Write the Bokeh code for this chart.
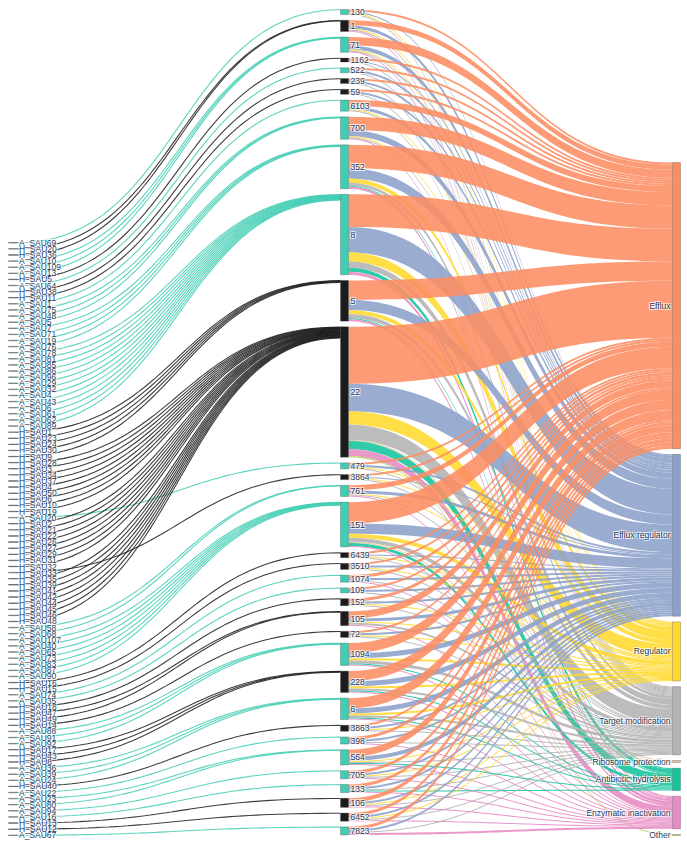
import numpy as np
from bokeh.plotting import figure
from bokeh.models import ColumnDataSource, Range1d
from bokeh.embed import file_html
from bokeh.resources import INLINE
from bokeh.core.properties import value

# ---------------- data ----------------
left_samples = [
    "A_SAU69", "H_SAU20", "H_SAU36", "A_SAU10", "A_SAU109", "A_SAU13", "H_SAU5", "A_SAU64", "H_SAU38", "H_SAU11",
    "A_SAU1", "A_SAU75", "A_SAU48", "A_SAU5", "A_SAU7", "A_SAU71", "A_SAU19", "A_SAU76", "A_SAU78", "A_SAU81",
    "A_SAU85", "A_SAU86", "A_SAU96", "A_SAU29", "A_SAU32", "A_SAU4", "A_SAU43", "A_SAU6", "A_SAU61", "A_SAU62",
    "A_SAU89", "H_SAU1", "H_SAU23", "H_SAU24", "H_SAU30", "H_SAU9", "H_SAU28", "H_SAU3", "H_SAU34", "H_SAU37",
    "H_SAU4", "H_SAU50", "H_SAU6", "H_SAU10", "H_SAU19", "A_SAU20", "H_SAU2", "H_SAU21", "H_SAU22", "H_SAU26",
    "H_SAU27", "H_SAU29", "H_SAU31", "H_SAU32", "H_SAU33", "H_SAU35", "H_SAU39", "H_SAU41", "H_SAU42", "H_SAU44",
    "H_SAU45", "H_SAU46", "H_SAU48", "A_SAU58", "A_SAU68", "A_SAU107", "A_SAU40", "A_SAU65", "A_SAU73", "A_SAU83",
    "A_SAU87", "A_SAU90", "H_SAU16", "H_SAU15", "A_SAU74", "A_SAU35", "H_SAU18", "H_SAU47", "H_SAU49", "H_SAU14",
    "A_SAU88", "A_SAU91", "A_SAU92", "H_SAU17", "H_SAU43", "H_SAU8", "A_SAU36", "A_SAU39", "A_SAU24", "H_SAU40",
    "A_SAU22", "A_SAU23", "A_SAU80", "A_SAU94", "A_SAU16", "H_SAU13", "H_SAU12", "A_SAU67",
]
left_targets = [
    "130", "1", "1", "71", "71", "71", "1162", "522", "239", "59",
    "6103", "700", "700", "700", "352", "352", "352", "352", "8", "8",
    "8", "8", "8", "8", "8", "8", "8", "8", "8", "8",
    "8", "5", "5", "5", "5", "5", "22", "22", "22", "22",
    "22", "22", "22", "22", "22", "479", "22", "22", "22", "22",
    "22", "22", "22", "22", "3864", "22", "22", "22", "22", "22",
    "22", "22", "22", "761", "761", "151", "151", "151", "151", "151",
    "151", "151", "6439", "3510", "1074", "109", "152", "105", "105", "72",
    "1094", "1094", "1094", "228", "228", "228", "6", "6", "6", "3863",
    "398", "564", "564", "705", "133", "106", "6452", "7823",
]
sample_value = 0.45

clusters = ["130", "1", "71", "1162", "522", "239", "59", "6103", "700", "352", "8", "5", "22",
            "479", "3864", "761", "151", "6439", "3510", "1074", "109", "152", "105", "72",
            "1094", "228", "6", "3863", "398", "564", "705", "133", "106", "6452", "7823"]
cluster_group = ["A", "H", "A", "H", "A", "H", "H", "A", "A", "A", "A", "H", "H",
                 "A", "H", "A", "A", "H", "H", "A", "A", "H", "H", "H",
                 "A", "H", "A", "H", "A", "A", "A", "A", "H", "H", "A"]

mechanisms = ["Efflux", "Efflux regulator", "Regulator", "Target modification",
              "Ribosome protection", "Antibiotic hydrolysis", "Enzymatic inactivation", "Other"]
mech_colors = ["#fc8d62", "#8da0cb", "#ffd92f", "#b3b3b3", "#e5c494", "#13c49c", "#e78ac3", "#a6d854"]

# gene counts per cluster (same order as clusters)
efflux =           [2, 5, 8, 2, 2, 2, 2, 6, 13, 23, 32, 19, 56, 2, 2, 5, 21, 2, 2, 3, 2, 3, 7, 2, 10, 10, 10, 2, 3, 7, 3, 3, 4, 3, 3]
efflux_regulator = [1, 3, 4, 1, 2, 2, 2, 3, 6, 10, 25, 10, 27, 2, 1, 3, 10, 1, 2, 2, 2, 2, 3, 2, 5, 5, 5, 2, 2, 4, 2, 2, 2, 2, 2]
regulator =        [1, 1, 1, 0, 0, 0, 0, 1, 1, 4, 9, 4, 13, 1, 1, 1, 4, 1, 1, 0, 0, 1, 1, 1, 2, 2, 2, 1, 0, 1, 1, 0, 1, 1, 0]
target_mod =       [1, 1, 1, 1, 1, 1, 1, 1, 1, 3, 6, 4, 15, 1, 1, 1, 4, 1, 1, 1, 1, 1, 2, 1, 3, 2, 2, 1, 1, 1, 1, 1, 1, 1, 1]
ribosome_prot =    [0, 0, 0, 0, 0, 0, 0, 0, 0, 0, 0, 0, 1, 0, 0, 0, 1, 0, 0, 0, 0, 0, 0, 0, 0, 0, 0, 0, 0, 0, 0, 0, 0, 0, 0]
abx_hydrolysis =   [0, 0, 0, 0, 0, 0, 0, 0, 0, 1, 4, 1, 8, 0, 0, 0, 3, 0, 0, 0, 0, 0, 0, 0, 1, 1, 1, 0, 0, 1, 0, 1, 0, 0, 0]
enzymatic_inact =  [0, 1, 1, 0, 0, 0, 0, 0, 1, 2, 3, 2, 7, 0, 0, 1, 1, 0, 0, 1, 0, 0, 1, 0, 1, 1, 1, 0, 1, 1, 1, 1, 1, 1, 2]
other =            [0, 0, 0, 0, 0, 0, 0, 0, 0, 0, 0, 0, 1, 0, 0, 0, 0, 0, 0, 0, 0, 0, 0, 0, 0, 0, 0, 0, 0, 0, 0, 0, 0, 0, 0]

flows = np.array([efflux, efflux_regulator, regulator, target_mod, ribosome_prot,
                  abx_hydrolysis, enzymatic_inact, other], dtype=float).T  # (cluster, mechanism)

# ---------------- style / layout ----------------
W, H = 687, 847
PAD = 5.65
X_LEFT = (8.0, 17.0)
X_MID = (340.0, 348.0)
X_RIGHT = (672.0, 680.0)
TOP_MID, BOTTOM = 9.0, 834.5
TEAL = "#3fcdb3"
DARK = "#1c1c1c"
TEXT = "#2a3f5f"
FONT = value("Liberation Sans")
group_color = {"A": TEAL, "H": DARK}

n_mid = len(clusters)
cidx = {c: i for i, c in enumerate(clusters)}
mid_in = np.zeros(n_mid)
for t in left_targets:
    mid_in[cidx[t]] += sample_value
mid_out = flows.sum(axis=1)
mid_val = np.maximum(mid_in, mid_out)
k = (BOTTOM - TOP_MID - PAD * (n_mid - 1)) / mid_val.sum()

mid_y0 = np.zeros(n_mid)
y = TOP_MID
for i in range(n_mid):
    mid_y0[i] = y
    y += mid_val[i] * k + PAD
mid_y1 = mid_y0 + mid_val * k

mech_val = flows.sum(axis=0)
n_r = len(mechanisms)
r_y0 = np.zeros(n_r)
y = BOTTOM + 0.5 - (mech_val.sum() * k + PAD * (n_r - 1))
for j in range(n_r):
    r_y0[j] = y
    y += mech_val[j] * k + PAD
r_y1 = r_y0 + mech_val * k

n_l = len(left_samples)
l_y0 = np.zeros(n_l)
y = BOTTOM + 0.5 - (n_l * sample_value * k + PAD * (n_l - 1))
for s in range(n_l):
    l_y0[s] = y
    y += sample_value * k + PAD
l_y1 = l_y0 + sample_value * k


def bez(x0, y0, x1, y1, n=48):
    t = np.linspace(0, 1, n)
    xm = (x0 + x1) / 2
    x = (1 - t) ** 3 * x0 + 3 * (1 - t) ** 2 * t * xm + 3 * (1 - t) * t ** 2 * xm + t ** 3 * x1
    yy = (1 - t) ** 3 * y0 + 3 * (1 - t) ** 2 * t * y0 + 3 * (1 - t) * t ** 2 * y1 + t ** 3 * y1
    return x, yy


p = figure(width=W, height=H, x_range=Range1d(0, W), y_range=Range1d(H, 0),
           output_backend="svg", toolbar_location=None, min_border=0,
           x_axis_location=None, y_axis_location=None)
p.grid.visible = False
p.outline_line_color = None
p.background_fill_color = "white"

# left -> middle links (thin)
in_off = mid_y0.copy()
lxs, lys, lcols = [], [], []
for s, t in enumerate(left_targets):
    i = cidx[t]
    h = sample_value * k
    ys = (l_y0[s] + l_y1[s]) / 2
    yt = in_off[i] + h / 2
    in_off[i] += h
    bx, by = bez(X_LEFT[1], ys, X_MID[0], yt)
    lxs.append(list(bx)); lys.append(list(by)); lcols.append(group_color[cluster_group[i]])
p.multi_line(xs="xs", ys="ys", line_color="c", line_width=1.1, line_alpha=0.85,
             source=ColumnDataSource(dict(xs=lxs, ys=lys, c=lcols)))

# middle -> right links
out_off = mid_y0.copy()
rin_off = r_y0.copy()
tgt_pos = {}
for j in range(n_r):
    for i in range(n_mid):
        v = flows[i, j] * k
        if v > 0:
            tgt_pos[(i, j)] = (rin_off[j], rin_off[j] + v)
            rin_off[j] += v
pxs, pys, pcols = [], [], []
for i in range(n_mid):
    for j in range(n_r):
        v = flows[i, j] * k
        if v <= 0:
            continue
        s0, s1 = out_off[i], out_off[i] + v
        out_off[i] += v
        t0, t1 = tgt_pos[(i, j)]
        tx, ty = bez(X_MID[1], s0, X_RIGHT[0], t0)
        bx, by = bez(X_MID[1], s1, X_RIGHT[0], t1)
        pxs.append(list(tx) + list(bx[::-1]))
        pys.append(list(ty) + list(by[::-1]))
        pcols.append(mech_colors[j])
p.patches(xs="xs", ys="ys", fill_color="c", fill_alpha=0.88, line_color=None,
          source=ColumnDataSource(dict(xs=pxs, ys=pys, c=pcols)))

# nodes
p.quad(left=X_LEFT[0], right=X_LEFT[1], top=l_y0, bottom=l_y1,
       fill_color=[group_color[cluster_group[cidx[t]]] for t in left_targets],
       line_color="#666666", line_width=0.6)
p.quad(left=X_MID[0], right=X_MID[1], top=mid_y0, bottom=mid_y1,
       fill_color=[group_color[g] for g in cluster_group], line_color="#444444",
       line_width=0.5, line_alpha=0.6)
p.quad(left=X_RIGHT[0], right=X_RIGHT[1], top=r_y0, bottom=np.maximum(r_y1, r_y0 + 1),
       fill_color=mech_colors, line_color="#444444", line_width=0.5, line_alpha=0.6)

# labels with a soft white halo (white copies underneath, offset by 1px)
label_sets = [
    ([X_LEFT[1] + 1.5] * n_l, list((l_y0 + l_y1) / 2), left_samples, "left"),
    ([X_MID[1] + 2] * n_mid, list((mid_y0 + mid_y1) / 2), clusters, "left"),
    ([X_RIGHT[0] - 2] * n_r, list((r_y0 + r_y1) / 2), mechanisms, "right"),
]
for xs_, ys_, txt, align in label_sets:
    for dx, dy in [(1, 1), (-1, -1), (1, -1), (-1, 1)]:
        p.text(x=xs_, y=ys_, text=txt, x_offset=dx, y_offset=dy, text_font=FONT,
               text_font_size="8.5px", text_color="white", text_alpha=0.8,
               text_baseline="middle", text_align=align)
for xs_, ys_, txt, align in label_sets:
    p.text(x=xs_, y=ys_, text=txt, text_font=FONT, text_font_size="8.5px",
           text_color=TEXT, text_baseline="middle", text_align=align)

open("out.html", "w").write(file_html(p, INLINE))
